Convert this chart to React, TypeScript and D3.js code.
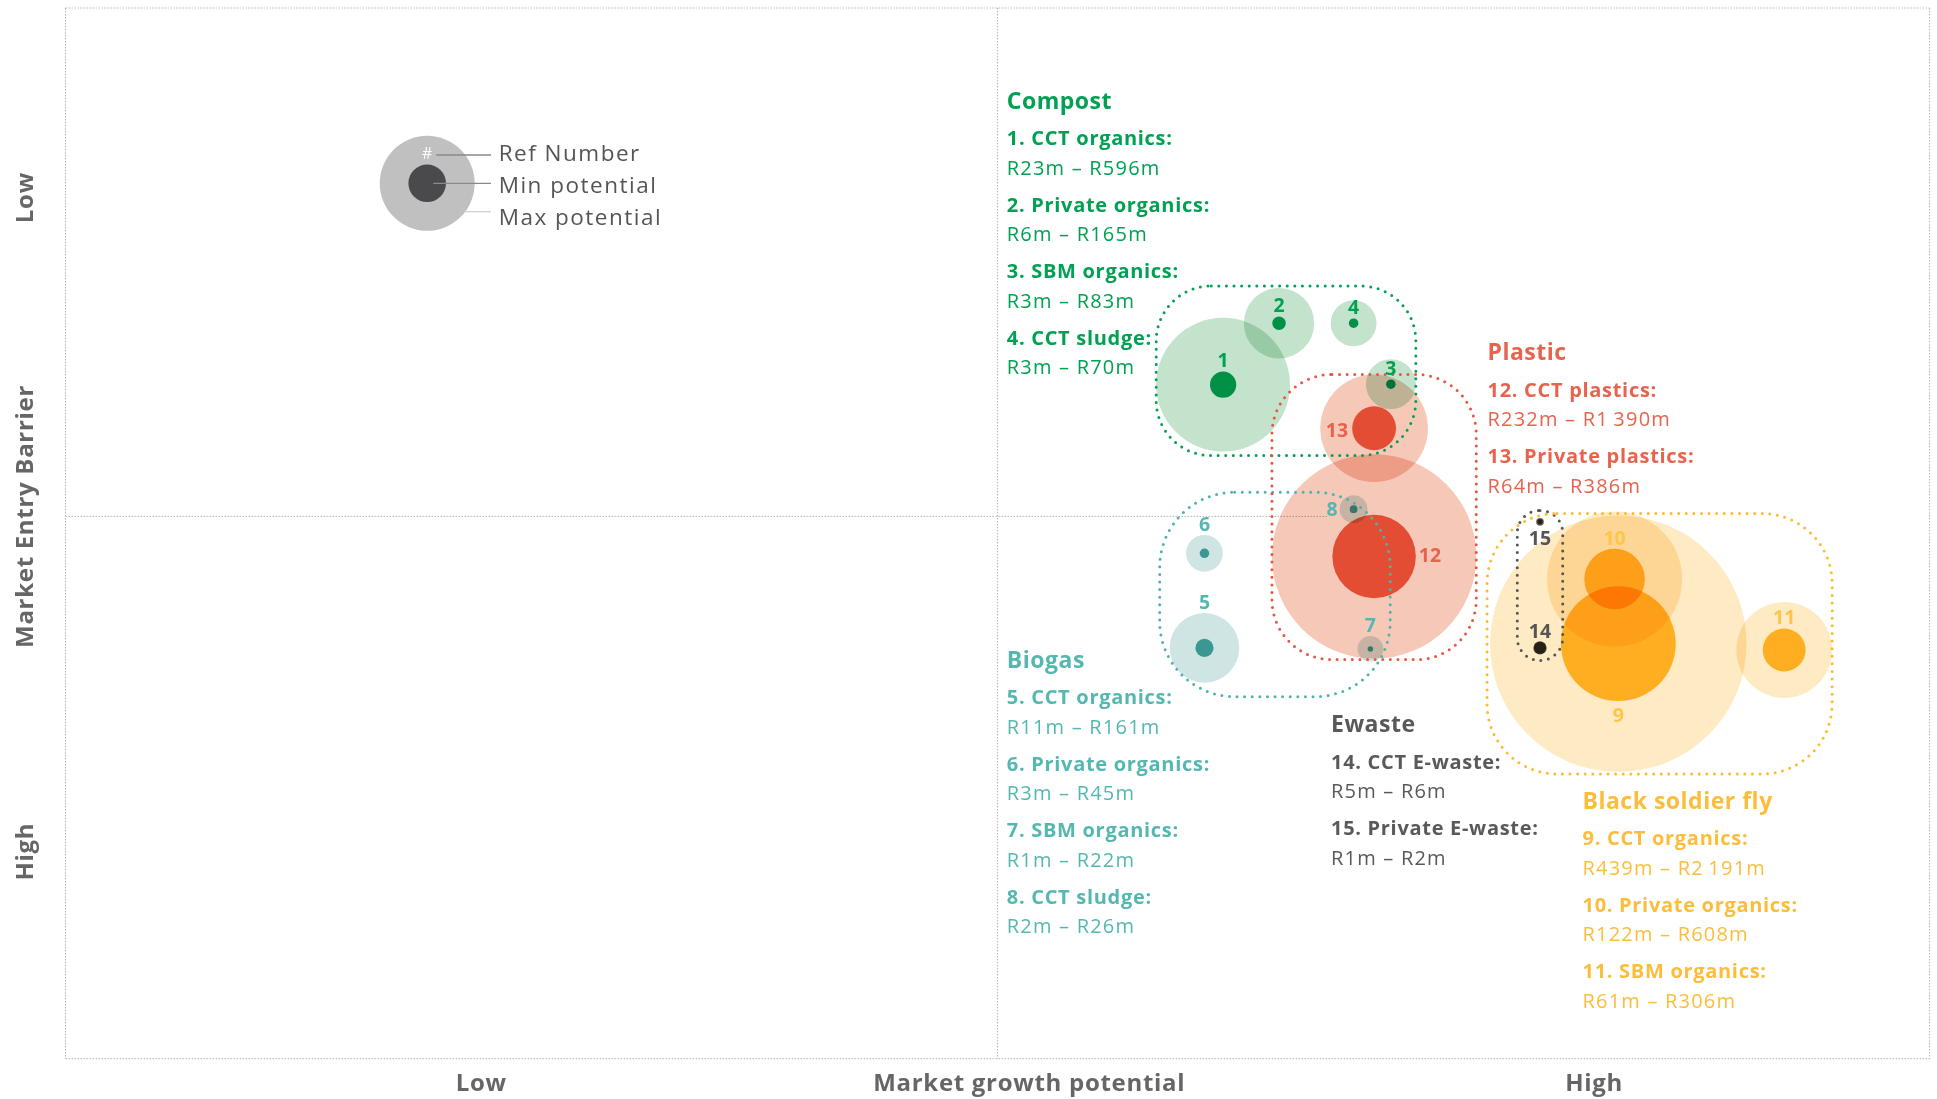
import React from 'react';
import * as d3 from 'd3';

// ---------- DATA ----------
const refNumbers = [1, 2, 3, 4, 5, 6, 7, 8, 9, 10, 11, 12, 13, 14, 15];
const itemNames = [
  'CCT organics', 'Private organics', 'SBM organics', 'CCT sludge',
  'CCT organics', 'Private organics', 'SBM organics', 'CCT sludge',
  'CCT organics', 'Private organics', 'SBM organics',
  'CCT plastics', 'Private plastics',
  'CCT E-waste', 'Private E-waste',
];
const itemGroup = [
  'Compost', 'Compost', 'Compost', 'Compost',
  'Biogas', 'Biogas', 'Biogas', 'Biogas',
  'Black soldier fly', 'Black soldier fly', 'Black soldier fly',
  'Plastic', 'Plastic',
  'Ewaste', 'Ewaste',
];
// Rand millions
const minPotential = [23, 6, 3, 3, 11, 3, 1, 2, 439, 122, 61, 232, 64, 5, 1];
const maxPotential = [596, 165, 83, 70, 161, 45, 22, 26, 2191, 608, 306, 1390, 386, 6, 2];
// position on the matrix (0-100 scales)
const marketGrowth = [62.1, 65.1, 71.1, 69.1, 61.1, 61.1, 70.0, 69.1, 83.3, 83.1, 92.2, 70.2, 70.2, 79.1, 79.1];
const entryBarrier = [35.85, 30.0, 35.8, 30.0, 60.9, 51.9, 61.0, 47.7, 60.5, 54.35, 61.1, 52.2, 40.0, 60.9, 48.9];
const labelPlacement = [
  'above-min', 'above-min', 'above-min', 'above-min',
  'above-max', 'above-max', 'above-max', 'left-max',
  'below-min', 'above-min', 'above-min',
  'right-min', 'left-min',
  'above-min', 'below-min',
];

const groupNames = ['Compost', 'Biogas', 'Plastic', 'Ewaste', 'Black soldier fly'];

const xTickValues = [22.3, 51.7, 82.0];
const xTickLabels = ['Low', 'Market growth potential', 'High'];
const yTickValues = [18.05, 48.39, 80.3];
const yTickLabels = ['Low', 'Market Entry Barrier', 'High'];

const xDivider = 50;
const yDivider = 48.39;
const yDividerEnd = 67.66;

const legendMax = 300;
const legendMin = 47;
const legendLabels = ['Ref Number', 'Min potential', 'Max potential'];

// ---------- STYLE ----------
const W = 1937;
const H = 1099;
const FONT = '"Open Sans", Lato, sans-serif';

const groupStyle: Record<string, any> = {
  Compost: { text: '#00a152', num: '#00a152', outer: '#c4e3cd', inner: '#00a357', line: '#00a152', pad: [2, 0, 4, 0], rx: 55, block: [1006.8, 100.5] },
  Biogas: { text: '#55b8b0', num: '#55b8b0', outer: '#cfe5e3', inner: '#48a8a3', line: '#4fb3ac', pad: [3, 7, 14, 10], rx: 75, block: [1006.8, 659.7] },
  Plastic: { text: '#e8634d', num: '#e8634d', outer: '#f6c8b8', inner: '#eb6247', line: '#e8563f', pad: [0, 0, 1, 0], rx: 60, block: [1487.5, 352] },
  Ewaste: { text: '#595959', num: '#555555', outer: '#6e695f', inner: '#5a554b', line: '#555555', pad: [7.5, 16, 6, 16], rx: 23, block: [1331, 724] },
  'Black soldier fly': { text: '#fcbd3a', num: '#fdc64a', outer: '#feeac3', inner: '#ffbe2a', line: '#fdbb2e', pad: [-2, 0, 2, 3], rx: 70, block: [1582.5, 800.5] },
};

const fmtLocale = d3.formatLocale({ decimal: '.', thousands: '\u2009', grouping: [3], currency: ['', ''] });
const fmt = fmtLocale.format(',');

export default function App() {
  const x = d3.scaleLinear().domain([0, 100]).range([65.5, 1929.6]);
  const y = d3.scaleLinear().domain([0, 100]).range([8, 1058.7]);
  const r = d3.scaleSqrt().domain([0, 2200]).range([0, 2.74 * Math.sqrt(2200)]);

  const items = refNumbers.map((n, i) => ({
    n,
    name: itemNames[i],
    group: itemGroup[i],
    min: minPotential[i],
    max: maxPotential[i],
    cx: x(marketGrowth[i]),
    cy: y(entryBarrier[i]),
    rMin: r(minPotential[i]),
    rMax: r(maxPotential[i]),
    place: labelPlacement[i],
  }));

  // group outline boxes from bubble extents
  const boxes = groupNames.map((g) => {
    const its = items.filter((d) => d.group === g);
    const st = groupStyle[g];
    const x0 = (d3.min(its, (d) => d.cx - d.rMax) as number) - st.pad[3];
    const x1 = (d3.max(its, (d) => d.cx + d.rMax) as number) + st.pad[1];
    const y0 = (d3.min(its, (d) => d.cy - d.rMax) as number) - st.pad[0];
    const y1 = (d3.max(its, (d) => d.cy + d.rMax) as number) + st.pad[2];
    return { g, x0, x1, y0, y1, rx: Math.min(st.rx, (x1 - x0) / 2, (y1 - y0) / 2) };
  });

  const labelFor = (d: any) => {
    const fs = 19;
    const capC = fs * 0.36;
    switch (d.place) {
      case 'above-min':
        return { x: d.cx, y: d.cy - d.rMin - 11 + capC, anchor: 'middle' };
      case 'above-max':
        return { x: d.cx, y: d.cy - d.rMax - 11 + capC, anchor: 'middle' };
      case 'below-min':
        return { x: d.cx, y: d.cy + d.rMin + 14 + capC, anchor: 'middle' };
      case 'left-max':
        return { x: d.cx - d.rMax - 2, y: d.cy + capC, anchor: 'end' };
      case 'left-min':
        return { x: d.cx - d.rMin - 4, y: d.cy + 2 + capC, anchor: 'end' };
      case 'right-min':
      default:
        return { x: d.cx + d.rMin + 3, y: d.cy - 1.5 + capC, anchor: 'start' };
    }
  };

  const legendCx = 427.2;
  const legendCy = 183.3;
  const lrMax = r(legendMax);
  const lrMin = r(legendMin);

  const frameGrey = '#b5b5b5';

  return (
    <svg width={W} height={H} viewBox={`0 0 ${W} ${H}`} style={{ position: 'absolute', left: 0, top: 0, background: '#fff' }} fontFamily={FONT}>
      {/* frame */}
      <g stroke={frameGrey} strokeWidth={1} strokeDasharray="1.5 1.5" fill="none">
        <line x1={x(0)} x2={x(100)} y1={y(0)} y2={y(0)} />
        <line x1={x(0)} x2={x(100)} y1={y(100)} y2={y(100)} />
        <line x1={x(0)} x2={x(0)} y1={y(0)} y2={y(100)} />
        <line x1={x(100)} x2={x(100)} y1={y(0)} y2={y(100)} />
        <line x1={x(xDivider)} x2={x(xDivider)} y1={y(0)} y2={y(100)} />
        <line x1={x(0)} x2={x(yDividerEnd)} y1={y(yDivider)} y2={y(yDivider)} />
      </g>

      {/* axis labels */}
      <g fill="#666666" fontWeight={700} fontSize={24} letterSpacing={0.7}>
        {xTickLabels.map((t, i) => (
          <text key={t} x={x(xTickValues[i])} y={1082 + 8.5} textAnchor="middle">{t}</text>
        ))}
        {yTickLabels.map((t, i) => (
          <text key={t} transform={`translate(${24.5},${y(yTickValues[i])}) rotate(-90)`} dy={8.5} textAnchor="middle">{t}</text>
        ))}
      </g>

      {/* legend */}
      <g>
        <circle cx={legendCx} cy={legendCy} r={lrMax} fill="#c1c0c1" />
        <circle cx={legendCx} cy={legendCy} r={lrMin} fill="#4a4a4c" />
        <text x={legendCx} y={legendCy - 30.6 + 6} textAnchor="middle" fill="#ffffff" fontSize={16}>#</text>
        <line x1={legendCx + 9} x2={491} y1={155} y2={155} stroke="#8a8a8a" strokeWidth={1.3} />
        <line x1={legendCx + 6} x2={491} y1={legendCy} y2={legendCy} stroke="#8a8a8a" strokeWidth={1.3} />
        <line x1={legendCx + 37} x2={491} y1={211.7} y2={211.7} stroke="#d0d0d0" strokeWidth={1.3} />
        {legendLabels.map((t, i) => (
          <text key={t} x={498.7} y={152.5 + i * 32 + 8} fill="#555555" fontSize={22.5} letterSpacing={1.5}>{t}</text>
        ))}
      </g>

      {/* bubbles: outer */}
      <g>
        {items.map((d) => (
          <circle key={'o' + d.n} cx={d.cx} cy={d.cy} r={d.rMax} fill={groupStyle[d.group].outer} style={{ mixBlendMode: 'multiply' }} />
        ))}
        {items.map((d) => (
          <circle key={'i' + d.n} cx={d.cx} cy={d.cy} r={d.rMin} fill={groupStyle[d.group].inner} style={{ mixBlendMode: 'multiply' }} />
        ))}
      </g>

      {/* group outlines */}
      <g fill="none" strokeWidth={3} strokeLinecap="round" strokeDasharray="0 7.6">
        {boxes.map((b) => (
          <rect key={b.g} x={b.x0} y={b.y0} width={b.x1 - b.x0} height={b.y1 - b.y0} rx={b.rx} ry={b.rx} stroke={groupStyle[b.g].line} />
        ))}
      </g>

      {/* bubble numbers */}
      <g fontWeight={700} fontSize={19.5}>
        {items.map((d) => {
          const l = labelFor(d);
          return (
            <text key={'l' + d.n} x={l.x} y={l.y} textAnchor={l.anchor} fill={groupStyle[d.group].num}>{d.n}</text>
          );
        })}
      </g>

      {/* text blocks */}
      {groupNames.map((g) => {
        const st = groupStyle[g];
        const its = items.filter((d) => d.group === g);
        const [bx, by] = st.block;
        return (
          <g key={'b' + g} fill={st.text}>
            <text x={bx} y={by + 8} fontSize={23} fontWeight={700} letterSpacing={0.5}>{g}</text>
            {its.map((d, i) => (
              <g key={'t' + d.n}>
                <text x={bx} y={by + 37.5 + 66.5 * i + 7} fontSize={20} fontWeight={700} letterSpacing={0.7}>{`${d.n}. ${d.name}:`}</text>
                <text x={bx} y={by + 37.5 + 66.5 * i + 29.5 + 7} fontSize={20} fontWeight={400} letterSpacing={1.2}>{`R${fmt(d.min)}m – R${fmt(d.max)}m`}</text>
              </g>
            ))}
          </g>
        );
      })}
    </svg>
  );
}
